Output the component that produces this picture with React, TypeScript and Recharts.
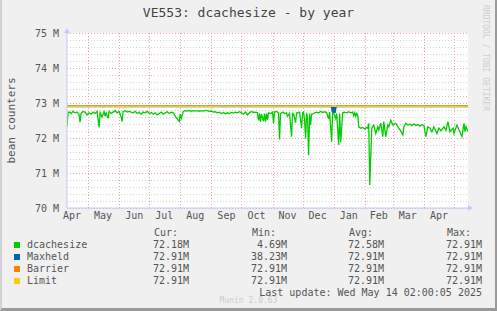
import { LineChart, Line, XAxis, YAxis, CartesianGrid, Label } from "recharts";

// days since 2024-04-10, one year of munin "by year" data
const monthStarts = [21, 52, 82, 113, 144, 174, 205, 235, 266, 297, 325, 356, 386];
const monthLabelDays = [5, 36, 67, 97, 128, 159, 189, 220, 250, 281, 311, 340, 371];
const monthLabels = ["Apr", "May", "Jun", "Jul", "Aug", "Sep", "Oct", "Nov", "Dec", "Jan", "Feb", "Mar", "Apr"];

const yTicks = [70, 71, 72, 73, 74, 75];
// every 0.2M, major lines are every 5th one
const yGridValues = [
  70, 70.2, 70.4, 70.6, 70.8, 71, 71.2, 71.4, 71.6, 71.8, 72, 72.2, 72.4, 72.6, 72.8,
  73, 73.2, 73.4, 73.6, 73.8, 74, 74.2, 74.4, 74.6, 74.8, 75,
];

const dcacheDays = [
  0, 1, 2, 4, 6, 8, 10, 12, 13, 14, 16, 18, 20, 22, 24, 26, 28, 30, 32, 33, 35, 37, 38, 39, 41, 42,
  44, 46, 48, 50, 52, 54, 55, 56, 58, 60, 62, 64, 66, 68, 70, 72, 74, 76, 78, 80, 82, 84, 86, 88,
  90, 92, 94, 96, 98, 100, 102, 104, 106, 108, 110, 112, 113, 114, 116, 118, 120, 122, 124, 126,
  128, 130, 132, 134, 136, 138, 140, 142, 144, 146, 148, 150, 152, 154, 156, 158, 160, 162, 164,
  166, 168, 170, 172, 174, 176, 178, 180, 182, 184, 186, 188, 190, 191, 192, 193, 194, 196, 197,
  198, 199, 200, 201, 203, 205, 206, 207, 209, 211, 212, 213, 215, 217, 219, 220, 222, 224, 225,
  226, 228, 229, 230, 232, 234, 235, 236, 237, 238, 239, 240, 241, 242, 243, 244, 245, 247, 249,
  251, 253, 255, 257, 259, 261, 262, 264, 265, 266, 268, 269, 271, 272, 273, 275, 277, 279, 281,
  283, 285, 286, 287, 288, 289, 290, 291, 293, 295, 297, 299, 300, 301, 302, 304, 306, 308, 310,
  311, 313, 315, 316, 318, 320, 321, 323, 325, 328, 331, 333, 335, 336, 338, 340, 342, 344, 346,
  348, 350, 352, 354, 356, 358, 360, 362, 364, 366, 369, 371, 373, 376, 378, 380, 382, 385, 386,
  389, 391, 394, 396, 397, 398, 400,
];
const dcacheValues = [
  72.32, 72.7, 72.75, 72.7, 72.76, 72.72, 72.74, 72.68, 72.45, 72.7, 72.76, 72.74, 72.66, 72.72,
  72.68, 72.74, 72.7, 72.76, 72.3, 72.72, 72.6, 72.75, 72.62, 72.72, 72.56, 72.76, 72.7, 72.74,
  72.78, 72.72, 72.76, 72.6, 72.47, 72.76, 72.78, 72.74, 72.76, 72.74, 72.72, 72.76, 72.7, 72.74,
  72.68, 72.74, 72.72, 72.76, 72.7, 72.73, 72.68, 72.72, 72.66, 72.7, 72.74, 72.68, 72.72, 72.75,
  72.7, 72.74, 72.72, 72.62, 72.55, 72.47, 72.68, 72.56, 72.76, 72.78, 72.77, 72.78, 72.76, 72.78,
  72.77, 72.78, 72.76, 72.78, 72.77, 72.79, 72.78, 72.76, 72.77, 72.74, 72.75, 72.72, 72.74, 72.7,
  72.73, 72.69, 72.72, 72.7, 72.73, 72.71, 72.74, 72.72, 72.75, 72.72, 72.68, 72.74, 72.66, 72.72,
  72.76, 72.73, 72.74, 72.72, 72.5, 72.7, 72.46, 72.68, 72.48, 72.7, 72.47, 72.7, 72.52, 72.72,
  72.7, 72.74, 72.42, 72.74, 72.76, 72.72, 71.96, 72.7, 72.74, 72.7, 72.72, 72.62, 72.7, 72.04,
  72.7, 72.68, 72.44, 72.72, 72.72, 72.74, 72.28, 72.72, 72.74, 72.5, 71.99, 72.72, 72.55, 71.51,
  72.7, 72.37, 72.68, 72.68, 72.72, 72.74, 72.72, 72.76, 72.73, 72.75, 72.72, 72.54, 72.74, 71.89,
  72.74, 72.72, 72.56, 72.7, 71.8, 72.7, 71.88, 72.72, 72.74, 72.72, 72.75, 72.72, 72.74, 72.64,
  72.72, 72.62, 72.7, 72.66, 72.32, 72.28, 72.3, 72.26, 72.3, 72.28, 72.42, 70.66, 72.28, 72.37,
  72.13, 72.32, 72.23, 72.42, 72.04, 72.47, 72.04, 72.37, 72.32, 72.51, 72.37, 72.42, 72.28, 72.2,
  72.09, 72.32, 72.42, 72.37, 72.4, 72.35, 72.4, 72.36, 72.39, 72.34, 72.38, 72.36, 72.04, 72.32,
  72.28, 72.18, 72.32, 72.13, 72.28, 72.2, 72.32, 72.22, 72.47, 72.18, 72.28, 72.13, 72.37, 72.23,
  72.04, 72.42, 72.18, 72.32, 72.18,
];

const maxheldDays = [0, 264, 265, 266, 267, 268, 269, 400];
const maxheldValues = [72.91, 72.91, 72.74, 72.9, 72.72, 72.88, 72.91, 72.91];
const barrierDays = [0, 400];
const barrierValues = [72.91, 72.91];
const limitDays = [0, 400];
const limitValues = [72.91, 72.91];

const legendNames = ["dcachesize", "Maxheld", "Barrier", "Limit"];
const legendColors = ["#00cc00", "#0066b3", "#ff8000", "#ffcc00"];
const curValues = ["72.18M", "72.91M", "72.91M", "72.91M"];
const minValues = ["4.69M", "38.23M", "72.91M", "72.91M"];
const avgValues = ["72.58M", "72.91M", "72.91M", "72.91M"];
const maxValues = ["72.91M", "72.91M", "72.91M", "72.91M"];

const toRows = (days: number[], vals: number[]) => days.map((d, i) => ({ day: d, v: vals[i] }));

const FONT = "'DejaVu Sans Mono', monospace";
const TXT = "#555";
const AXIS = "#c8c8ff";
const MAJOR = "#eea4a4";
const MINOR = "#d2d2d2";

const txt = (left: number, top: number, s: string, extra: React.CSSProperties = {}) => (
  <div style={{ position: "absolute", left, top, fontSize: 10, lineHeight: "12px", whiteSpace: "pre", ...extra }}>{s}</div>
);
const rtxt = (right: number, top: number, s: string) =>
  txt(0, top, s, { left: undefined, right: 497 - right });

// grid lines nudged half a pixel so the dots stay crisp
const hLine = (p: any) => (
  <line
    key={`h-${p.index}`}
    x1={p.x1}
    x2={p.x2}
    y1={Math.round(p.y1) + 0.5}
    y2={Math.round(p.y2) + 0.5}
    stroke={p.index % 5 === 0 ? MAJOR : MINOR}
    strokeDasharray="1 2"
  />
);
const vLine = (p: any) => (
  <line
    key={`v-${p.index}`}
    x1={Math.round(p.x1) + 0.5}
    x2={Math.round(p.x2) + 0.5}
    y1={p.y1}
    y2={p.y2}
    stroke={MAJOR}
    strokeDasharray="1 2"
  />
);

export default function App() {
  const dcache = toRows(dcacheDays, dcacheValues);
  const maxheld = toRows(maxheldDays, maxheldValues);
  const barrier = toRows(barrierDays, barrierValues);
  const limit = toRows(limitDays, limitValues);

  return (
    <div
      style={{
        position: "relative",
        width: 497,
        height: 311,
        boxSizing: "border-box",
        background: "#f0f0f0",
        fontFamily: FONT,
        color: TXT,
        overflow: "hidden",
      }}
    >
      <style>{"body{margin:0}"}</style>
      <LineChart width={497} height={311} margin={{ top: 33, right: 29, left: 0, bottom: 0 }}>
        <CartesianGrid
          horizontalValues={yGridValues}
          verticalValues={monthStarts}
          horizontal={hLine}
          vertical={vLine}
          fill="#ffffff"
          fillOpacity={1}
        />
        <XAxis
          dataKey="day"
          type="number"
          domain={[0, 400]}
          ticks={monthLabelDays}
          interval={0}
          tickFormatter={(_v: number, i: number) => monthLabels[i]}
          tick={{ fill: TXT, fontSize: 10, fontFamily: FONT }}
          tickLine={false}
          tickSize={2}
          tickMargin={2}
          axisLine={{ stroke: AXIS }}
          height={103}
          allowDataOverflow
        >
          <Label
            content={({ viewBox }: any) => {
              const x = viewBox.x + viewBox.width;
              const y = viewBox.y;
              return <polygon points={`${x},${y - 3} ${x + 5},${y} ${x},${y + 3}`} fill={AXIS} />;
            }}
          />
        </XAxis>
        <YAxis
          domain={[70, 75]}
          ticks={yTicks}
          interval={0}
          tickFormatter={(v: number) => `${v} M`}
          tick={{ fill: TXT, fontSize: 10, fontFamily: FONT }}
          tickLine={false}
          axisLine={{ stroke: AXIS }}
          width={67}
          allowDataOverflow
        >
          <Label
            content={({ viewBox }: any) => {
              const x = viewBox.x + viewBox.width;
              const y = viewBox.y;
              const cy = y + viewBox.height / 2;
              return (
                <g>
                  <polygon points={`${x - 3},${y} ${x},${y - 5} ${x + 3},${y}`} fill={AXIS} />
                  <text
                    x={11}
                    y={cy}
                    transform={`rotate(-90 11 ${cy})`}
                    textAnchor="middle"
                    dominantBaseline="central"
                    fill={TXT}
                    fontSize={11}
                    fontFamily={FONT}
                  >
                    bean counters
                  </text>
                </g>
              );
            }}
          />
        </YAxis>

        <Line data={dcache} dataKey="v" type="linear" stroke="#00cc00" strokeWidth={1.3} dot={false} isAnimationActive={false} />
        <Line data={maxheld} dataKey="v" type="linear" stroke="#0066b3" strokeWidth={2} dot={false} isAnimationActive={false} />
        <Line data={barrier} dataKey="v" type="linear" stroke="#ff8000" strokeWidth={0.8} dot={false} isAnimationActive={false} />
        <Line data={limit} dataKey="v" type="linear" stroke="#ffcc00" strokeWidth={1.5} dot={false} isAnimationActive={false} />
      </LineChart>

      <div style={{ position: "absolute", left: 0, width: 497, top: 5, textAlign: "center", fontSize: 13, lineHeight: "16px", color: "#444" }}>
        VE553: dcachesize - by year
      </div>
      <div
        style={{
          position: "absolute",
          left: 480,
          top: 5,
          fontSize: 8,
          lineHeight: "10px",
          color: "#cfcfcf",
          writingMode: "vertical-rl",
          whiteSpace: "pre",
        }}
      >
        RRDTOOL / TOBI OETIKER
      </div>

      {txt(154, 227, "Cur:")}
      {txt(252, 227, "Min:")}
      {txt(349, 227, "Avg:")}
      {txt(447, 227, "Max:")}
      {legendNames.map((n, i) => {
        const top = 239 + i * 12;
        return (
          <div key={n}>
            <div style={{ position: "absolute", left: 14, top: top + 3, width: 6, height: 6, background: legendColors[i] }} />
            {txt(27, top, n)}
            {rtxt(189, top, curValues[i])}
            {rtxt(287, top, minValues[i])}
            {rtxt(384, top, avgValues[i])}
            {rtxt(482, top, maxValues[i])}
          </div>
        );
      })}
      {rtxt(482, 287, "Last update: Wed May 14 02:00:05 2025")}
      <div style={{ position: "absolute", left: 0, width: 497, top: 296, textAlign: "center", fontSize: 8, lineHeight: "10px", color: "#cccccc" }}>
        Munin 2.0.63
      </div>
      <div style={{ position: "absolute", inset: 0, borderLeft: "2px solid #d2d2d2", borderRight: "2px solid #9a9a9a", borderBottom: "3px solid #9a9a9a", pointerEvents: "none" }} />
    </div>
  );
}
